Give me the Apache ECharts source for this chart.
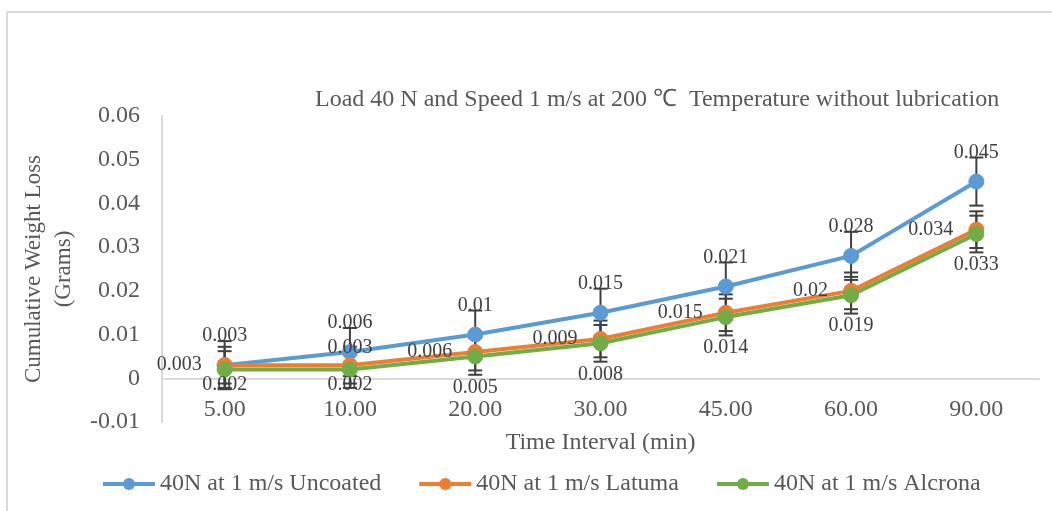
<!DOCTYPE html>
<html>
<head>
<meta charset="utf-8">
<title>Cumulative weight loss</title>
<script src="https://cdn.jsdelivr.net/npm/echarts@6/dist/echarts.min.js"></script>
<style>
  html, body { margin: 0; padding: 0; background: #fff; }
  #frame {
    position: absolute; left: 6px; top: 11px; width: 1200px; height: 700px;
    border-left: 2px solid #d9d9d9; border-top: 2px solid #d9d9d9;
  }
  #chart { position: absolute; left: 0; top: 0; width: 1052px; height: 511px; }
</style>
</head>
<body>
<div id="frame"></div>
<div id="chart"></div>
<script>
// time intervals (min)
const categories = ['5.00', '10.00', '20.00', '30.00', '45.00', '60.00', '90.00'];

// cumulative weight loss (grams)
const uncoated = [0.003, 0.006, 0.01, 0.015, 0.021, 0.028, 0.045];
const latuma = [0.003, 0.003, 0.006, 0.009, 0.015, 0.02, 0.034];
const alcrona = [0.002, 0.002, 0.005, 0.008, 0.014, 0.019, 0.033];

// error bar half-lengths
const errUncoated = 0.0055;
const errLatuma = 0.0042;
const errAlcrona = 0.0042;

const seriesNames = ['40N at 1 m/s Uncoated', '40N at 1 m/s Latuma', '40N at 1 m/s Alcrona'];
const colors = ['#5B9BD5', '#ED7D31', '#70AD47'];

const FONT = 'Liberation Serif, Times New Roman, serif';
const TXT = '#595959';

const labelStyle = {
  show: true,
  fontFamily: FONT,
  fontSize: 20,
  color: '#404040'
};

// label placement per point (Excel moved a few of them)
function withLabels(values, base, overrides) {
  return values.map((v, i) => {
    const o = overrides[i];
    return o ? { value: v, label: Object.assign({}, base, o) } : { value: v };
  });
}

function lineSeries(name, values, color, label, overrides) {
  return {
    name: name,
    type: 'line',
    z: 3,
    data: withLabels(values, label, overrides || {}),
    symbol: 'circle',
    symbolSize: 15,
    lineStyle: { width: 4, color: color },
    itemStyle: { color: color, borderColor: color },
    label: Object.assign({}, labelStyle, label),
    emphasis: { disabled: true },
    animation: false
  };
}

function errorSeries(values, err) {
  return {
    type: 'custom',
    z: 2,
    silent: true,
    animation: false,
    data: values.map((v, i) => [i, v, err]),
    renderItem: function (params, api) {
      const x = api.value(0);
      const y = api.value(1);
      const e = api.value(2);
      const top = api.coord([x, y + e]);
      const bot = api.coord([x, y - e]);
      const cap = 7;
      const style = { stroke: '#404040', lineWidth: 2 };
      return {
        type: 'group',
        children: [
          { type: 'line', shape: { x1: top[0], y1: top[1], x2: bot[0], y2: bot[1] }, style: style },
          { type: 'line', shape: { x1: top[0] - cap, y1: top[1], x2: top[0] + cap, y2: top[1] }, style: style },
          { type: 'line', shape: { x1: bot[0] - cap, y1: bot[1], x2: bot[0] + cap, y2: bot[1] }, style: style }
        ]
      };
    }
  };
}

const chart = echarts.init(document.getElementById('chart'));

const option = {
  backgroundColor: 'transparent',
  textStyle: { fontFamily: FONT },
  title: {
    text: 'Load 40 N and Speed 1 m/s at 200 \u2103  Temperature without lubrication',
    left: 310,
    top: 83,
    textStyle: { fontFamily: FONT, fontSize: 24, fontWeight: 'normal', color: TXT }
  },
  legend: {
    data: seriesNames,
    left: 96,
    top: 467,
    itemWidth: 52,
    itemHeight: 15,
    itemGap: 36,
    lineStyle: { width: 4 },
    textStyle: { fontFamily: FONT, fontSize: 24, color: TXT }
  },
  grid: {
    left: 162,
    right: 13,
    top: 116,
    bottom: 89
  },
  xAxis: {
    type: 'category',
    data: categories,
    boundaryGap: true,
    name: 'Time Interval (min)',
    nameLocation: 'middle',
    nameGap: 9,
    nameTextStyle: { fontFamily: FONT, fontSize: 24, color: TXT, verticalAlign: 'top' },
    axisLine: { show: true, onZero: true, lineStyle: { color: '#d9d9d9', width: 2 } },
    axisTick: { show: false },
    axisLabel: { fontFamily: FONT, fontSize: 24, color: TXT, margin: -24 },
    splitLine: { show: false }
  },
  yAxis: {
    type: 'value',
    min: -0.01,
    max: 0.06,
    interval: 0.01,
    name: 'Cumulative Weight Loss\n(Grams)',
    nameLocation: 'middle',
    nameRotate: 90,
    nameGap: 74,
    nameTextStyle: { fontFamily: FONT, fontSize: 23, color: TXT, lineHeight: 30 },
    axisLine: { show: true, lineStyle: { color: '#d9d9d9', width: 2 } },
    axisTick: { show: false },
    axisLabel: { fontFamily: FONT, fontSize: 24, color: TXT, margin: 22 },
    splitLine: { show: false }
  },
  series: [
    errorSeries(uncoated, errUncoated),
    errorSeries(latuma, errLatuma),
    errorSeries(alcrona, errAlcrona),
    lineSeries(seriesNames[0], uncoated, colors[0], { position: 'top', distance: 11 }),
    lineSeries(seriesNames[1], latuma, colors[1], { position: 'left', distance: 15 },
      { 1: { position: 'top', distance: -1 } }),
    lineSeries(seriesNames[2], alcrona, colors[2], { position: 'bottom', distance: 13 },
      { 0: { position: 'bottom', distance: -3 }, 1: { position: 'bottom', distance: -3 } })
  ]
};

chart.setOption(option);
</script>
</body>
</html>
